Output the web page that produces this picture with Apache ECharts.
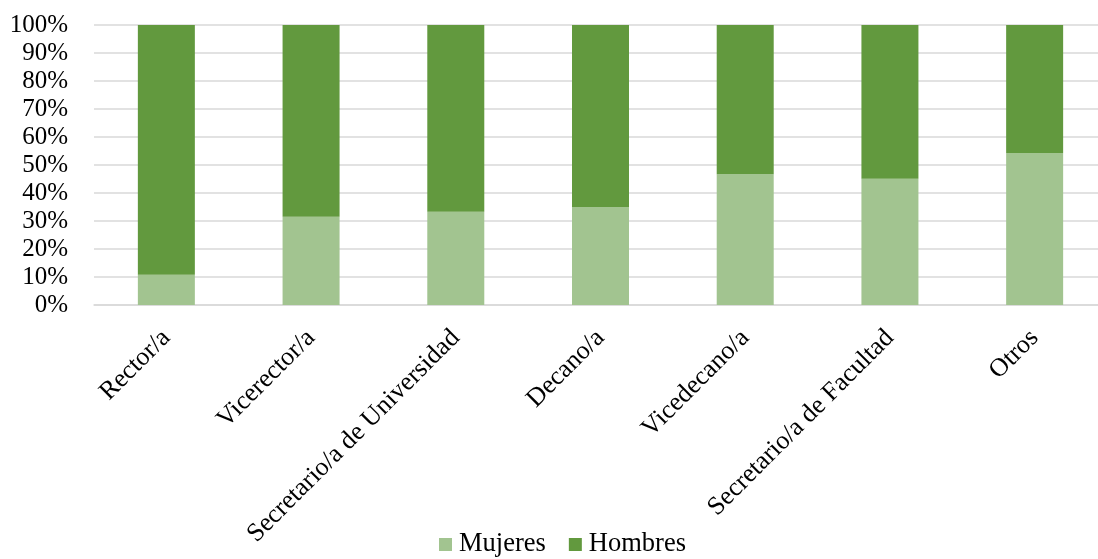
<!DOCTYPE html>
<html>
<head>
<meta charset="utf-8">
<script src="https://cdn.jsdelivr.net/npm/echarts@6/dist/echarts.min.js"></script>
<style>html,body{margin:0;padding:0;background:#fff}#c{width:1098px;height:559px}</style>
</head>
<body>
<div id="c"></div>
<script>
const categories = ['Rector/a','Vicerector/a','Secretario/a de Universidad','Decano/a','Vicedecano/a','Secretario/a de Facultad','Otros'];
const mujeres = [10.8, 31.5, 33.3, 35.0, 46.7, 45.1, 54.3];
const hombres = [89.2, 68.5, 66.7, 65.0, 53.3, 54.9, 45.7];
const yTicks = [0,10,20,30,40,50,60,70,80,90,100];

const font = 'Liberation Serif, Times New Roman, serif';
const chart = echarts.init(document.getElementById('c'), null, {renderer:'canvas'});
chart.setOption({
  animation: false,
  textStyle: {fontFamily: font},
  grid: {left: 94, width: 1013, top: 25, height: 280, containLabel: false, outerBoundsMode: 'none'},
  legend: {
    bottom: -4, left: 434,
    itemWidth: 13, itemHeight: 13, itemGap: 23,
    icon: 'rect',
    textStyle: {fontFamily: font, fontSize: 26.5, color: '#000', padding:[0,0,0,2]},
    data: ['Mujeres','Hombres']
  },
  xAxis: {
    type: 'category',
    data: categories,
    axisLine: {show: true, lineStyle: {color: '#d9d9d9', width: 1.5}},
    axisTick: {show: false},
    axisLabel: {rotate: 45, fontFamily: font, fontSize: 26, color: '#000', margin: 29, interval: 0}
  },
  yAxis: {
    type: 'value', min: 0, max: 100, interval: 10,
    axisLine: {show: false}, axisTick: {show: false},
    splitLine: {lineStyle: {color: '#d9d9d9', width: 1.5}},
    axisLabel: {fontFamily: font, fontSize: 25, color: '#000', margin: 26,
      formatter: v => yTicks.includes(v) ? v + '%' : ''}
  },
  series: [
    {name: 'Mujeres', type: 'bar', stack: 'a', data: mujeres, barWidth: 57,
     itemStyle: {color: '#a2c490'}},
    {name: 'Hombres', type: 'bar', stack: 'a', data: hombres, barWidth: 57,
     itemStyle: {color: '#62993e'}}
  ]
});
</script>
</body>
</html>
